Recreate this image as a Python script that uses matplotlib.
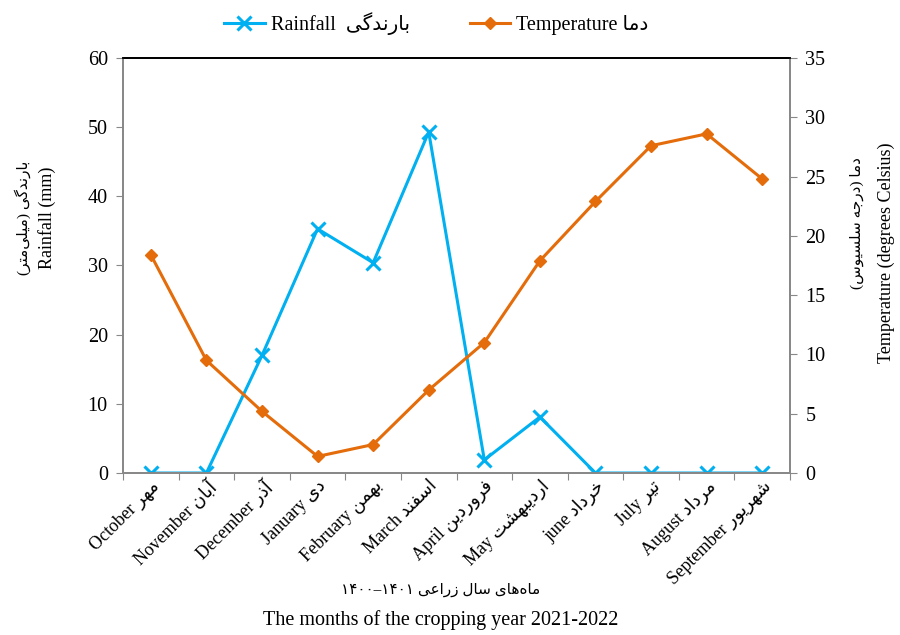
import matplotlib
matplotlib.use("Agg")
import matplotlib.pyplot as plt

# 글꼴: 영문은 Times 계열, 페르시아 문자는 DejaVu Sans 로 대체
plt.rcParams["font.family"] = ["Liberation Serif", "DejaVu Sans"]

# =============================================================================
# 데이터
# =============================================================================
months_en = ["October", "November", "December", "January", "February", "March",
             "April", "May", "june", "July", "August", "September"]
months_fa = ["مهر", "آبان", "آذر", "دی", "بهمن", "اسفند",
             "فروردین", "اردیبهشت", "خرداد", "تیر", "مرداد", "شهریور"]
rainfall = [0, 0, 17.0, 35.3, 30.4, 49.3, 1.9, 8.1, 0, 0, 0, 0]
temperature = [18.4, 9.5, 5.2, 1.4, 2.4, 7.0, 11.0, 17.9, 22.9, 27.6, 28.6, 24.8]

# =============================================================================
# 간단한 아랍 문자 형태 변환 (isolated, final, initial, medial)
# =============================================================================
FORMS = {
    "ا": ("\uFE8D", "\uFE8E", None, None),
    "آ": ("\uFE81", "\uFE82", None, None),
    "ب": ("\uFE8F", "\uFE90", "\uFE91", "\uFE92"),
    "ت": ("\uFE95", "\uFE96", "\uFE97", "\uFE98"),
    "ج": ("\uFE9D", "\uFE9E", "\uFE9F", "\uFEA0"),
    "خ": ("\uFEA5", "\uFEA6", "\uFEA7", "\uFEA8"),
    "د": ("\uFEA9", "\uFEAA", None, None),
    "ذ": ("\uFEAB", "\uFEAC", None, None),
    "ر": ("\uFEAD", "\uFEAE", None, None),
    "ز": ("\uFEAF", "\uFEB0", None, None),
    "س": ("\uFEB1", "\uFEB2", "\uFEB3", "\uFEB4"),
    "ش": ("\uFEB5", "\uFEB6", "\uFEB7", "\uFEB8"),
    "ع": ("\uFEC9", "\uFECA", "\uFECB", "\uFECC"),
    "ف": ("\uFED1", "\uFED2", "\uFED3", "\uFED4"),
    "ل": ("\uFEDD", "\uFEDE", "\uFEDF", "\uFEE0"),
    "م": ("\uFEE1", "\uFEE2", "\uFEE3", "\uFEE4"),
    "ن": ("\uFEE5", "\uFEE6", "\uFEE7", "\uFEE8"),
    "ه": ("\uFEE9", "\uFEEA", "\uFEEB", "\uFEEC"),
    "و": ("\uFEED", "\uFEEE", None, None),
    "ی": ("\uFBFC", "\uFBFD", "\uFBFE", "\uFBFF"),
    "گ": ("\uFB92", "\uFB93", "\uFB94", "\uFB95"),
}
NONJOIN = {c for c, f in FORMS.items() if f[2] is None}
MIRROR = {"(": ")", ")": "("}


def shape_word(word):
    out = []
    for i, c in enumerate(word):
        if c == "\u200c":
            continue
        if c not in FORMS:
            out.append(MIRROR.get(c, c))
            continue
        prev = word[i - 1] if i > 0 else None
        nxt = word[i + 1] if i + 1 < len(word) else None
        jp = prev in FORMS and prev not in NONJOIN
        jn = nxt in FORMS and c not in NONJOIN
        iso, fin, ini, med = FORMS[c]
        out.append(med if jp and jn else fin if jp else ini if jn else iso)
    return "".join(reversed(out))


def fa(text):
    parts = []
    for w in reversed(text.split(" ")):
        if any("\u06f0" <= ch <= "\u06f9" for ch in w):
            parts.append("–".join(reversed(w.split("–"))))
        else:
            parts.append(shape_word(w))
    return " ".join(parts)


# =============================================================================
# 그림
# =============================================================================
fig = plt.figure(figsize=(9, 6.35), dpi=100)
ax = fig.add_axes([0.1367, 0.2551, 0.7411, 0.6536])
ax2 = ax.twinx()

x = list(range(len(months_en)))
l1, = ax.plot(x, rainfall, color="#00B0F0", lw=2.2, marker="x", ms=10, mew=2.2,
              label="Rainfall  " + fa("بارندگی"))
l2, = ax2.plot(x, temperature, color="#E46C0A", lw=2.2, marker="D", ms=6.5,
               label="Temperature " + fa("دما"))

ax.set_xlim(-0.5, 11.5)
ax.set_ylim(0, 60)
ax.set_yticks(range(0, 61, 10))
ax2.set_ylim(0, 35)
ax2.set_yticks(range(0, 36, 5))

# 눈금: 범주 경계에 표시
ax.set_xticks([i - 0.5 for i in range(13)])
ax.set_xticklabels([])
ax.set_xticks(x, minor=True)
ax.set_xticklabels([f"{e} {fa(p)}" for e, p in zip(months_en, months_fa)],
                   minor=True, rotation=45, ha="right", va="top",
                   rotation_mode="anchor", fontsize=13)
ax.tick_params(axis="x", which="minor", length=0, pad=3)
ax.tick_params(axis="x", which="major", length=5, color="#888888", direction="out")
ax.tick_params(axis="y", length=5, color="#888888", labelsize=14.5, pad=6)
ax2.tick_params(axis="y", length=5, color="#888888", labelsize=14.5, pad=6)

for a in (ax, ax2):
    for side in ("left", "right", "bottom"):
        a.spines[side].set_color("#888888")
        a.spines[side].set_linewidth(1.3)
    a.spines["top"].set_color("black")
    a.spines["top"].set_linewidth(1.3)

# 축 제목
fig.text(0.025, 0.657, "(" + fa("میلی‌متر") + ") " + fa("بارندگی"),
         rotation=90, ha="center", va="center", fontsize=11)
fig.text(0.052, 0.657, "Rainfall (mm)", rotation=90, ha="center", va="center",
         fontsize=13)
fig.text(0.952, 0.648, "(" + fa("سلسیوس") + " " + fa("درجه") + ") " + fa("دما"),
         rotation=90, ha="center", va="center", fontsize=11)
fig.text(0.985, 0.602, "Temperature (degrees Celsius)", rotation=90,
         ha="center", va="center", fontsize=13)
fig.text(0.49, 0.071, fa("ماه‌های سال زراعی ۱۴۰۱–۱۴۰۰"), ha="center",
         va="center", fontsize=11)
fig.text(0.49, 0.024, "The months of the cropping year 2021-2022", ha="center",
         va="center", fontsize=14.5)

fig.legend(handles=[l1, l2], loc="upper center", bbox_to_anchor=(0.485, 1.01),
           ncol=2, frameon=False, fontsize=14.5, columnspacing=3.0,
           handlelength=2.0, handletextpad=0.3)

plt.savefig("out.png", dpi=100)
plt.close()
